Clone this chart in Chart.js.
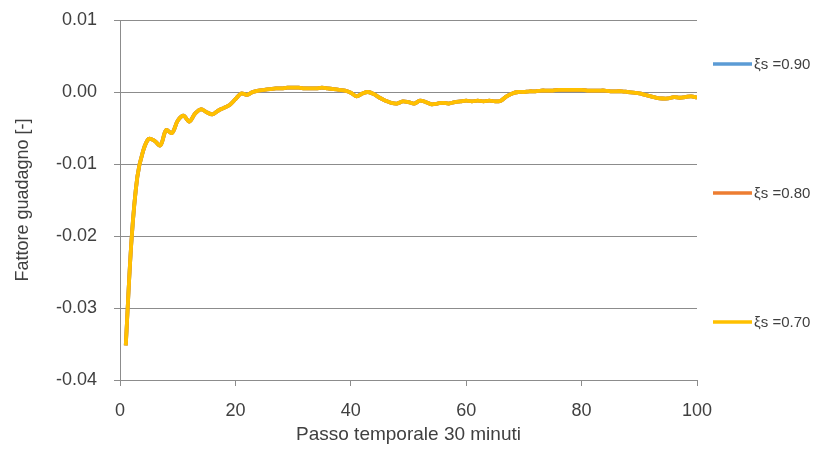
<!DOCTYPE html>
<html>
<head>
<meta charset="utf-8">
<script src="https://cdn.jsdelivr.net/npm/chart.js@4/dist/chart.umd.min.js"></script>
<style>
  html, body { margin: 0; padding: 0; background: #fff; }
  #wrap { width: 815px; height: 450px; }
</style>
</head>
<body>
<div id="wrap"><canvas id="grafico"></canvas></div>
<script>
// passi temporali (30 minuti)
const passi = [];
for (let i = 1; i <= 100; i++) passi.push(i);

// fattore guadagno (le tre curve coincidono)
const valori070 = [
  -0.0352, -0.0205, -0.0118, -0.0082, -0.0065, -0.0068, -0.0074, -0.0053, -0.0057, -0.0040,
  -0.0033, -0.0041, -0.0030, -0.0024, -0.0028, -0.0031, -0.0026, -0.0022, -0.0018, -0.0010,
  -0.0002, -0.0004, 0.0000, 0.0002, 0.0003, 0.0004, 0.0005, 0.0005, 0.0006, 0.0006,
  0.0006, 0.0005, 0.0005, 0.0005, 0.0006, 0.0005, 0.0004, 0.0003, 0.0002, -0.0001,
  -0.0006, -0.0002, 0.0000, -0.0003, -0.0008, -0.0012, -0.0015, -0.0016, -0.0013, -0.0014,
  -0.0016, -0.0012, -0.0014, -0.0017, -0.0016, -0.0015, -0.0016, -0.0014, -0.0013, -0.0012,
  -0.0013, -0.0012, -0.0013, -0.0012, -0.0013, -0.0012, -0.0006, -0.0002, 0.0000, 0.0000,
  0.0001, 0.0001, 0.0002, 0.0002, 0.0002, 0.0003, 0.0003, 0.0003, 0.0003, 0.0003,
  0.0002, 0.0002, 0.0002, 0.0002, 0.0001, 0.0001, 0.0001, 0.0000, -0.0001, -0.0002,
  -0.0004, -0.0006, -0.0008, -0.0009, -0.0009, -0.0007, -0.0008, -0.0007, -0.0006, -0.0008
];
const valori080 = valori070.slice();
const valori090 = valori070.slice();

const etichette = ['ξs =0.90', 'ξs =0.80', 'ξs =0.70'];
const colori = ['#5B9BD5', '#ED7D31', '#FFC000'];
const tickY = [0.01, 0.00, -0.01, -0.02, -0.03, -0.04];

const font = "'Liberation Sans', Arial, sans-serif";
const grigio = '#8c8c8c';
const testo = '#404040';

function punti(valori) {
  return valori.map((v, i) => ({ x: passi[i], y: v }));
}

// legenda disegnata a destra, voci distanziate come nell'originale
const legendaDestra = {
  id: 'legendaDestra',
  afterDraw(chart) {
    const ctx = chart.ctx;
    const area = chart.chartArea;
    const alt = area.bottom - area.top;
    const pos = [0.122, 0.48, 0.838];
    ctx.save();
    ctx.font = '15px ' + font;
    ctx.textBaseline = 'middle';
    etichette.forEach((t, i) => {
      const y = Math.round(area.top + alt * pos[i]);
      ctx.strokeStyle = colori[i];
      ctx.lineWidth = 3.5;
      ctx.beginPath();
      ctx.moveTo(713, y);
      ctx.lineTo(752, y);
      ctx.stroke();
      ctx.fillStyle = testo;
      ctx.fillText(t, 754, y + 1);
    });
    ctx.restore();
  }
};

new Chart(document.getElementById('grafico'), {
  type: 'line',
  data: {
    datasets: [
      { label: etichette[0], data: punti(valori090), borderColor: colori[0], order: 2 },
      { label: etichette[1], data: punti(valori080), borderColor: colori[1], order: 1 },
      { label: etichette[2], data: punti(valori070), borderColor: colori[2], order: 0 }
    ]
  },
  options: {
    responsive: true,
    maintainAspectRatio: false,
    animation: false,
    layout: { padding: { top: 20, right: 118, left: 0, bottom: 0 } },
    elements: {
      point: { radius: 0 },
      line: { borderWidth: 3.8, tension: 0.35, fill: false }
    },
    plugins: {
      legend: { display: false },
      tooltip: { enabled: false }
    },
    scales: {
      x: {
        type: 'linear',
        min: 0,
        max: 100,
        ticks: { stepSize: 20, color: testo, font: { family: font, size: 18 }, padding: 14, maxRotation: 0 },
        grid: { drawOnChartArea: false, color: grigio, tickLength: 6 },
        border: { color: grigio, width: 1 },
        title: { display: true, text: 'Passo temporale 30 minuti', color: testo, font: { family: font, size: 19 }, padding: { top: 0, bottom: 4 } },
        afterFit(scale) {
          scale.height = 70;
          scale.paddingLeft = 0;
          scale.paddingRight = 0;
        }
      },
      y: {
        min: -0.04,
        max: 0.01,
        afterBuildTicks(scale) { scale.ticks = tickY.map(v => ({ value: v })); },
        ticks: {
          color: testo,
          font: { family: font, size: 18 },
          padding: 17,
          callback: v => (Math.abs(v) < 1e-9 ? 0 : v).toFixed(2)
        },
        grid: { color: grigio, tickLength: 6 },
        border: { color: grigio, width: 1 },
        title: { display: true, text: 'Fattore guadagno [-]', color: testo, font: { family: font, size: 18 }, padding: { top: 12, bottom: 0 } },
        afterFit(scale) {
          scale.width = 120;
          scale.paddingTop = 0;
          scale.paddingBottom = 0;
        }
      }
    }
  },
  plugins: [legendaDestra]
});
</script>
</body>
</html>
